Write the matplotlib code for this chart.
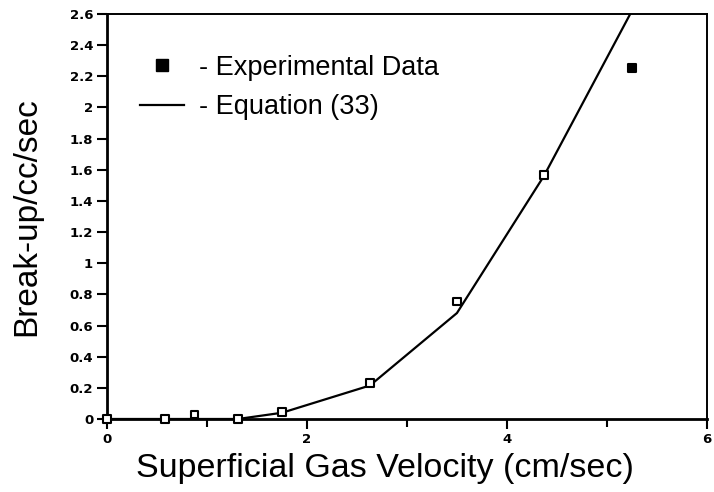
import matplotlib
matplotlib.use('Agg')
import matplotlib.pyplot as plt
from matplotlib.lines import Line2D
from matplotlib.ticker import MultipleLocator, FuncFormatter

# measured break-up rates
exp_velocity = [0.0, 0.58, 0.875, 1.31, 1.75, 2.63, 3.50, 4.37, 5.25]
exp_breakup = [0.0, 0.0, 0.03, 0.0, 0.045, 0.23, 0.755, 1.565, 2.255]

# Equation (33) curve
eq_velocity = [0.0, 0.58, 0.875, 1.31, 1.75, 2.63, 3.50, 4.37, 5.25]
eq_breakup = [0.0, 0.0, 0.0, 0.0, 0.04, 0.215, 0.68, 1.56, 2.62]

y_ticks = [0, 0.2, 0.4, 0.6, 0.8, 1, 1.2, 1.4, 1.6, 1.8, 2, 2.2, 2.4, 2.6]
x_ticks = [0, 2, 4, 6]

fig = plt.figure(figsize=(7.14, 4.92), dpi=100)
ax = fig.add_axes([0.1499, 0.1484, 0.8401, 0.8232])

ax.plot(eq_velocity, eq_breakup, color='black', linewidth=1.6, clip_on=True)
face = ['white'] * (len(exp_velocity) - 1) + ['black']
ax.scatter(exp_velocity, exp_breakup, marker='s', s=30, facecolors=face,
           edgecolors='black', linewidths=1.5, zorder=3, clip_on=False)

ax.set_xlim(0, 6)
ax.set_ylim(0, 2.6)
ax.set_xticks(x_ticks)
ax.xaxis.set_minor_locator(MultipleLocator(1))
ax.set_yticks(y_ticks)
ax.yaxis.set_major_formatter(FuncFormatter(lambda v, p: f'{v:g}'))

for s in ax.spines.values():
    s.set_linewidth(1.4)
ax.spines['left'].set_linewidth(2)
ax.spines['bottom'].set_linewidth(2)

ax.tick_params(axis='both', which='major', direction='out', length=7, width=1.5,
               labelsize=9.5, pad=3)
ax.tick_params(axis='x', which='minor', direction='out', length=6, width=1.5)
for lab in ax.get_xticklabels() + ax.get_yticklabels():
    lab.set_fontweight('bold')
    lab.set_family('DejaVu Sans')

ax.set_xlabel('Superficial Gas Velocity (cm/sec)', fontsize=24.5,
              family='Liberation Sans')
ax.xaxis.set_label_coords(0.463, -0.083)
ax.set_ylabel('Break-up/cc/sec', fontsize=24, family='Liberation Sans')
ax.yaxis.set_label_coords(-0.108, 0.5)

handles = [Line2D([], [], linestyle='none', marker='s', markersize=9,
                  markerfacecolor='black', markeredgecolor='black'),
           Line2D([], [], color='black', linewidth=1.6)]
ax.legend(handles, ['- Experimental Data', '- Equation (33)'], loc='upper left',
          bbox_to_anchor=(0.015, 0.96), frameon=False, handlelength=1.6,
          handletextpad=0.55, labelspacing=0.5,
          prop={'family': 'Liberation Sans', 'size': 19.5})

fig.savefig('out.png', dpi=100)
